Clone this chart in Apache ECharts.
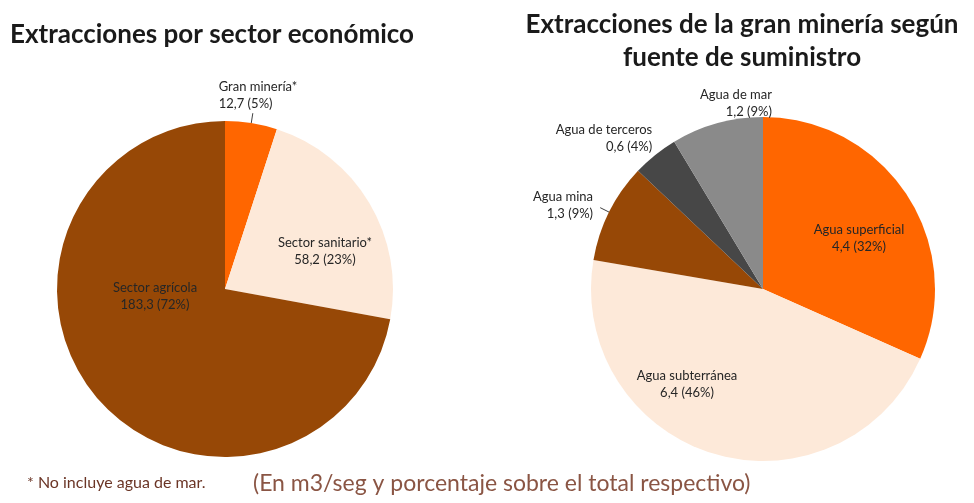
<!DOCTYPE html>
<html>
<head>
<meta charset="utf-8">
<script src="https://cdn.jsdelivr.net/npm/echarts@6/dist/echarts.min.js"></script>
<style>
  html, body { margin: 0; padding: 0; background: #ffffff; }
  #chart { width: 974px; height: 503px; }
</style>
</head>
<body>
<div id="chart"></div>
<script>
// Left pie: extracciones por sector económico (m3/seg)
const sectorNames = ['Gran minería*', 'Sector sanitario*', 'Sector agrícola'];
const sectorValues = [12.7, 58.2, 183.3];

// Right pie: gran minería según fuente de suministro (m3/seg)
const fuenteNames = ['Agua superficial', 'Agua subterránea', 'Agua mina', 'Agua de terceros', 'Agua de mar'];
const fuenteValues = [4.4, 6.4, 1.3, 0.6, 1.2];

(function() {
  const chartDom = document.getElementById('chart');
  const chart = echarts.init(chartDom, null, { renderer: 'canvas' });

  const FONT = 'Lato, "Open Sans", sans-serif';
  const labelColor = '#262626';

  const sectorColors = ['#ff6600', '#fde9d9', '#974806'];
  const fuenteColors = ['#ff6600', '#fde9d9', '#974806', '#474747', '#8a8a8a'];

  // pie geometry
  const leftCenter = [225, 289];
  const rightCenter = [763, 289];

  // where each label block should sit, offset from its pie centre
  const leftSpots = [[33, -194], [100, -38], [-70, 7]];
  const rightSpots = [[96, -51], [-76, 95], [-200, -84], [-159, -151], [-27, -186]];

  const fmt = p => p.name + '\n' + String(p.value).replace('.', ',') + ' (' + p.percent + '%)';

  const makeData = (names, values, colors, outside, lined) => names.map((n, i) => ({
    name: n,
    value: values[i],
    itemStyle: { color: colors[i] },
    label: { position: outside.includes(i) ? 'outside' : 'inside' },
    labelLine: { show: lined.includes(i) }
  }));

  const moveTo = (center, spots) => params => {
    const r = params.labelRect;
    const s = spots[params.dataIndex];
    return {
      dx: center[0] + s[0] - (r.x + r.width / 2),
      dy: center[1] + s[1] - (r.y + r.height / 2)
    };
  };

  const pieBase = {
    type: 'pie',
    startAngle: 90,
    clockwise: true,
    avoidLabelOverlap: false,
    percentPrecision: 0,
    silent: true,
    label: {
      show: true,
      formatter: fmt,
      fontFamily: FONT,
      fontSize: 13,
      lineHeight: 17,
      color: labelColor,
      align: 'center'
    },
    labelLine: {
      length: 10,
      length2: 0,
      lineStyle: { color: '#404040', width: 1 }
    },
    itemStyle: { borderWidth: 0 }
  };

  const option = {
    backgroundColor: '#ffffff',
    animation: false,
    title: [
      {
        text: 'Extracciones por sector económico',
        left: 5,
        top: 17,
        textStyle: { fontFamily: FONT, fontSize: 26, fontWeight: 'bold', color: '#1a1a1a' }
      },
      {
        text: 'Extracciones de la gran minería según\nfuente de suministro',
        left: 737,
        top: 3,
        textAlign: 'center',
        textStyle: { fontFamily: FONT, fontSize: 26, fontWeight: 'bold', color: '#1a1a1a', lineHeight: 33 }
      },
      {
        text: '* No incluye agua de mar.',
        left: 22,
        top: 470,
        textStyle: { fontFamily: FONT, fontSize: 16, fontWeight: 'normal', color: '#6b3526' }
      },
      {
        text: '(En m3/seg y porcentaje sobre el total respectivo)',
        left: 248,
        top: 467,
        textStyle: { fontFamily: FONT, fontSize: 23, fontWeight: 'normal', color: '#8a5544' }
      }
    ],
    series: [
      Object.assign({}, pieBase, {
        name: 'Sector',
        center: leftCenter,
        radius: 168,
        data: makeData(sectorNames, sectorValues, sectorColors, [0], [0]),
        labelLayout: moveTo(leftCenter, leftSpots)
      }),
      Object.assign({}, pieBase, {
        name: 'Fuente',
        center: rightCenter,
        radius: 172,
        data: makeData(fuenteNames, fuenteValues, fuenteColors, [2, 3, 4], [2]),
        labelLayout: moveTo(rightCenter, rightSpots)
      })
    ]
  };

  chart.setOption(option);
})();
</script>
</body>
</html>
